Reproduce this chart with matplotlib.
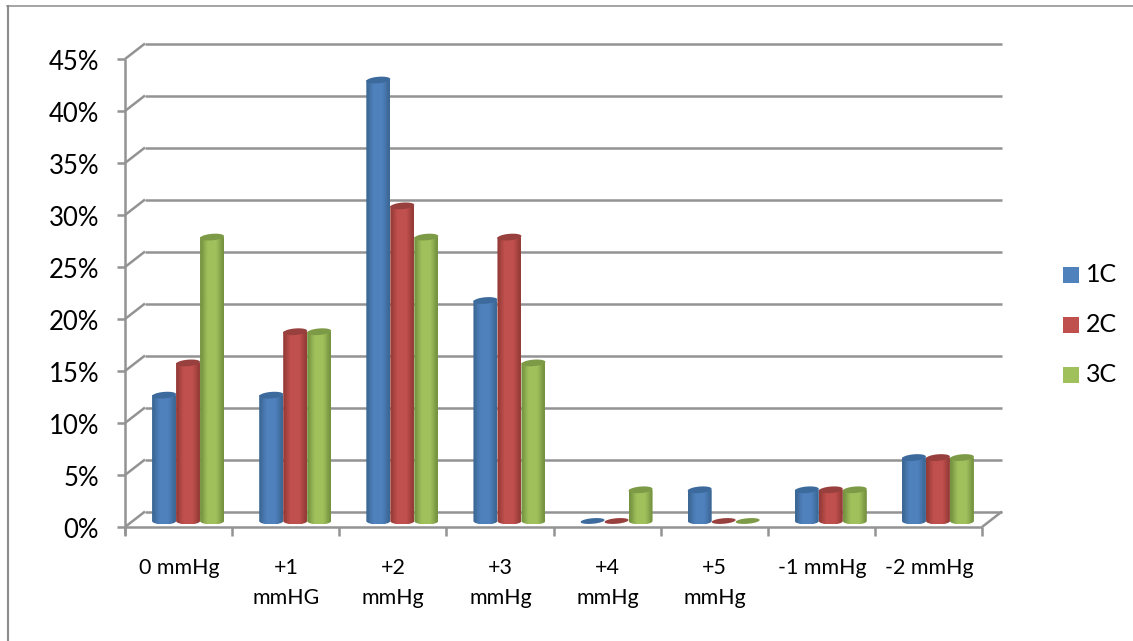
import matplotlib
matplotlib.use("Agg")
import matplotlib.pyplot as plt
import numpy as np
from matplotlib.patches import PathPatch, Polygon, Rectangle
from matplotlib.path import Path
from matplotlib.colors import LinearSegmentedColormap

categories = ["0 mmHg", "+1\nmmHG", "+2\nmmHg", "+3\nmmHg", "+4\nmmHg", "+5\nmmHg", "-1 mmHg", "-2 mmHg"]
series_names = ["1C", "2C", "3C"]
values_1c = [12.1, 12.1, 42.4, 21.2, 0, 3, 3, 6.1]
values_2c = [15.2, 18.2, 30.3, 27.3, 0, 0, 3, 6.1]
values_3c = [27.3, 18.2, 27.3, 15.2, 3, 0, 3, 6.1]
yticks = [0, 5, 10, 15, 20, 25, 30, 35, 40, 45]

plt.rcParams["font.family"] = ["Lato", "DejaVu Sans"]

W, H = 1133, 641
fig = plt.figure(figsize=(W / 100, H / 100), dpi=100)
# front plane of the fake 3d box, in pixels
left, right, top, bottom = 125, 982, 59, 527
ax = fig.add_axes([left / W, 1 - bottom / H, (right - left) / W, (bottom - top) / H])
ax.set_xlim(0, len(categories))
ax.set_ylim(0, 45)
ax.axis("off")

px = len(categories) / (right - left)
py = 45 / (bottom - top)
dx, dy = 20 * px, 15.5 * py
grid_c = "#939393"
lw = 1.8


def ln(xs, ys, **kw):
    ax.plot(xs, ys, color=grid_c, lw=lw, clip_on=False, solid_capstyle="butt", **kw)


def tilted_ellipse(xc, yc, w_px, h_px, angle=5):
    # ellipse outline worked out in pixels, then scaled back to data units
    t = np.linspace(0, 2 * np.pi, 50)
    a = np.radians(angle)
    ex = w_px / 2 * np.cos(t)
    ey = h_px / 2 * np.sin(t)
    xs = ex * np.cos(a) - ey * np.sin(a)
    ys = ex * np.sin(a) + ey * np.cos(a)
    return np.column_stack([xc + xs * px, yc + ys * py])


n = len(categories)
for t in yticks:
    ln([dx, n + dx], [t + dy, t + dy], zorder=1)
    ln([0, dx], [t, t + dy], zorder=1)
    ln([-8 * px, 0], [t, t], zorder=1)
ln([0, 0], [-8 * py, 45])
ln([0, n], [0, 0], zorder=1.5)
ln([n, n + dx], [0, dy], zorder=1.5)
for i in range(n + 1):
    ln([i, i], [-9 * py, 0], zorder=1.5)

for t in yticks:
    ax.text(-26 * px, t - 3.5 * py, f"{t}%", ha="right", va="center", fontsize=18.5, color="black", clip_on=False)
for i, c in enumerate(categories):
    ax.text(i + 0.5 + 0.005, -31 * py, c, ha="center", va="top", fontsize=15.4, color="black",
            linespacing=1.62, clip_on=False)

colors = [
    ("#3c6896", "#4f81bd", "#3c6a9c"),
    ("#963c39", "#c0504d", "#97403d"),
    ("#769440", "#a0c05c", "#7d9a47"),
]
bar_w = 24 * px
base = 6 * py
ell_h = 7 * py
shift = 9.5 * px

for s, vals in enumerate([values_1c, values_2c, values_3c]):
    dark, mid, cap = colors[s]
    cmap = LinearSegmentedColormap.from_list(f"c{s}", [dark, mid, mid, dark], N=64)
    grad = np.array([[0.0, 0.22, 0.36, 0.5, 0.62, 0.78, 1.0]])
    for i, v in enumerate(vals):
        x0 = i + 0.5 + shift + (s - 1.5) * bar_w
        xc = x0 + bar_w / 2
        y0, y1 = base, base + v
        if v == 0:
            ax.add_patch(Polygon(tilted_ellipse(xc, y0, 24, 5.5), fc=cap, ec="none", zorder=3 + s * 0.01))
            continue
        im = ax.imshow(grad, extent=[x0, x0 + bar_w, y0 - ell_h / 2, y1], cmap=cmap, vmin=0, vmax=1,
                       aspect="auto", interpolation="bicubic", zorder=3 + s * 0.01)
        kappa = 0.5523
        rx, ry = bar_w / 2, ell_h / 2
        verts = [(x0, y1), (x0, y0),
                 (x0, y0 - kappa * ry), (xc - kappa * rx, y0 - ry), (xc, y0 - ry),
                 (xc + kappa * rx, y0 - ry), (x0 + bar_w, y0 - kappa * ry), (x0 + bar_w, y0),
                 (x0 + bar_w, y1), (x0, y1)]
        codes = [Path.MOVETO, Path.LINETO, Path.CURVE4, Path.CURVE4, Path.CURVE4,
                 Path.CURVE4, Path.CURVE4, Path.CURVE4, Path.LINETO, Path.CLOSEPOLY]
        outline = PathPatch(Path(verts, codes), transform=ax.transData, fc="none", ec="none")
        ax.add_patch(outline)
        im.set_clip_path(outline)
        ax.add_patch(Polygon(tilted_ellipse(xc, y1, 24, 6.5), fc=cap, ec="none", zorder=3.5 + s * 0.01))

ax.set_xlim(0, n)
ax.set_ylim(0, 45)

# legend
for name, c, y_px in zip(series_names, colors, [275, 325, 375]):
    fig.patches.append(Rectangle((1063 / W, 1 - (y_px + 8) / H), 16 / W, 16 / H, transform=fig.transFigure,
                                 fc=c[1], ec="none"))
    fig.text(1086 / W, 1 - y_px / H, name, ha="left", va="center", fontsize=18, color="black")

# pasted picture edge
fig.add_artist(plt.Line2D([7.5 / W, 7.5 / W], [0, 1 - 6 / H], color="#8c8c8c", lw=1.5))
fig.add_artist(plt.Line2D([6.5 / W, 1], [1 - 6 / H, 1 - 6 / H], color="#8c8c8c", lw=1.1))

fig.savefig("out.png", dpi=100)
